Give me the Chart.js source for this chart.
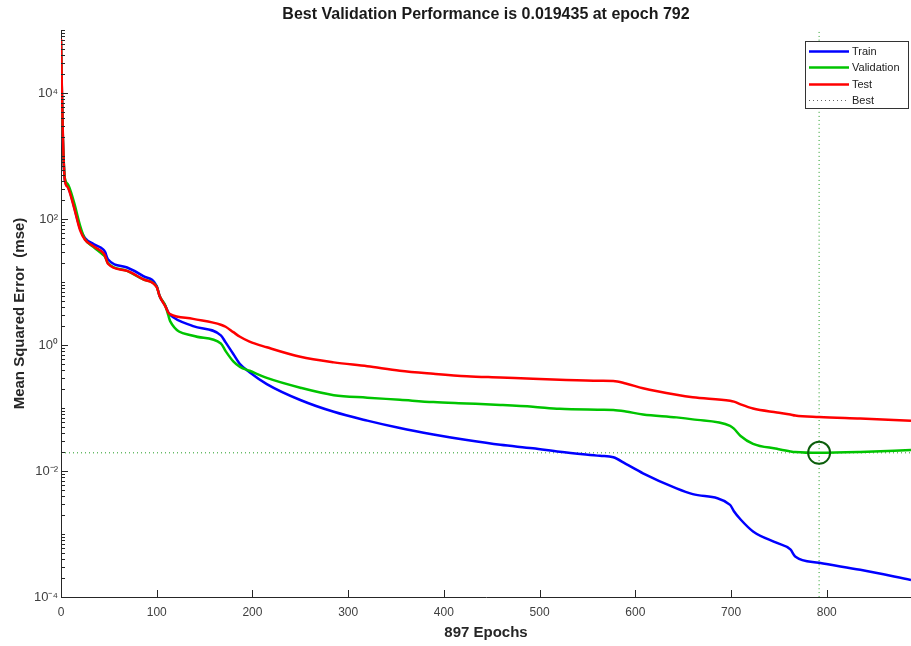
<!DOCTYPE html>
<html>
<head>
<meta charset="utf-8">
<script src="https://cdn.jsdelivr.net/npm/chart.js@4.4.1/dist/chart.umd.min.js"></script>
<style>
  html, body { margin: 0; padding: 0; background: #fff; }
  #wrap { width: 911px; height: 646px; position: relative; }
</style>
</head>
<body>
<div id="wrap"><canvas id="perf"></canvas></div>
<script>
// training record (mse per epoch, log scale)
const epochs = [0, 1, 2, 4, 7, 10, 14, 20, 25, 34, 44, 46, 49, 69, 86, 100, 103, 109, 112, 114,
    138, 167, 172, 180, 187, 197, 215, 250, 285, 320, 354, 389, 424, 459, 493, 521, 563, 577,
    590, 608, 643, 660, 699, 703, 710, 723, 748, 762, 767, 792, 835, 888];
const trainMse = [65000, 9000, 1800, 420, 330, 250, 150, 70, 50, 40, 33, 30, 23, 17, 12.4, 8.6, 6, 4.2, 3.3, 3.0,
    2.0, 1.42, 1.1, 0.72, 0.50, 0.37, 0.24, 0.134, 0.087, 0.063, 0.048, 0.038, 0.031, 0.026, 0.023, 0.0202, 0.0174, 0.0165,
    0.013, 0.0092, 0.0053, 0.0043, 0.0029, 0.0023, 0.0017, 0.0011, 0.00072, 0.00057, 0.00044, 0.00035, 0.00027, 0.000186];
const validationMse = [68000, 9500, 1900, 450, 360, 280, 175, 78, 48, 36, 27, 25, 20, 15, 11, 8.4, 6, 4.2, 3.0, 2.4,
    1.4, 1.06, 0.8, 0.55, 0.45, 0.39, 0.30, 0.21, 0.16, 0.146, 0.135, 0.124, 0.118, 0.112, 0.105, 0.097, 0.094, 0.093,
    0.088, 0.079, 0.071, 0.066, 0.052, 0.047, 0.036, 0.027, 0.0225, 0.0205, 0.0200, 0.0194, 0.0200, 0.0215];
const testMse = [72000, 10000, 2000, 420, 320, 240, 145, 66, 47, 37, 29, 26, 19.5, 15, 11, 8.3, 6, 4.1, 3.3, 3.1,
    2.6, 2.1, 1.95, 1.6, 1.35, 1.13, 0.92, 0.65, 0.53, 0.46, 0.39, 0.35, 0.32, 0.305, 0.29, 0.28, 0.27, 0.268,
    0.245, 0.206, 0.162, 0.148, 0.13, 0.126, 0.114, 0.098, 0.085, 0.079, 0.076, 0.072, 0.068, 0.063];

const bestEpoch = 792;
const bestPerf = 0.019435;
const totalEpochs = 897;
const visibleEpochs = 888;   // the picture is cut at the right edge

const xTickValues = [0, 100, 200, 300, 400, 500, 600, 700, 800];
const yDecades = [-4, -3, -2, -1, 0, 1, 2, 3, 4, 5];
const yTickLabels = { '-4': '10⁻⁴', '-2': '10⁻²', '0': '10⁰', '2': '10²', '4': '10⁴' };

const FONT = "'Liberation Sans', Arial, Helvetica, sans-serif";
const pts = arr => epochs.map((e, i) => ({ x: e, y: arr[i] }));

// log ticks: every 1..9 x 10^k, labelled only on even powers
const yTickValues = [];
yDecades.forEach(k => {
    for (let m = 1; m <= 9; m++) {
        if (k === 5 && m > 1) break;
        yTickValues.push(m * Math.pow(10, k));
    }
});

const inwardTicks = {
    id: 'inwardTicks',
    afterDraw(chart) {
        const { ctx, chartArea: a, scales: { x, y } } = chart;
        ctx.save();
        ctx.strokeStyle = '#262626';
        ctx.lineWidth = 1;
        ctx.beginPath();
        x.ticks.forEach(t => {
            const px = Math.round(x.getPixelForValue(t.value)) + 0.5;
            ctx.moveTo(px, a.bottom);
            ctx.lineTo(px, a.bottom - 7);
        });
        y.ticks.forEach(t => {
            const py = Math.round(y.getPixelForValue(t.value)) + 0.5;
            ctx.moveTo(a.left, py);
            ctx.lineTo(a.left + (t.label ? 7 : 4), py);
        });
        ctx.stroke();
        ctx.restore();
    }
};

const boxLegend = {
    id: 'boxLegend',
    afterDraw(chart) {
        const { ctx, chartArea: a } = chart;
        const items = chart.data.datasets.filter(d => ['Train', 'Validation', 'Test', 'Best'].includes(d.label));
        const w = 104, h = 68;
        const left = a.right - w - 2, top = a.top + 11;
        ctx.save();
        ctx.fillStyle = '#fff';
        ctx.fillRect(left, top, w, h);
        ctx.strokeStyle = '#333';
        ctx.lineWidth = 1;
        ctx.strokeRect(left + 0.5, top + 0.5, w - 1, h - 1);
        ctx.font = '11px ' + FONT;
        ctx.textBaseline = 'middle';
        items.forEach((d, i) => {
            const yy = Math.round(top + 9.5 + i * 16.5) + 0.5;
            ctx.strokeStyle = d.label === 'Best' ? '#666' : d.borderColor;
            ctx.lineWidth = d.label === 'Best' ? 1 : d.borderWidth;
            ctx.setLineDash(d.borderDash || []);
            ctx.beginPath();
            ctx.moveTo(left + 4, yy);
            ctx.lineTo(left + 44, yy);
            ctx.stroke();
            ctx.setLineDash([]);
            ctx.fillStyle = '#222';
            ctx.fillText(d.label, left + 47, yy);
        });
        ctx.restore();
    }
};

new Chart(document.getElementById('perf'), {
    type: 'line',
    data: {
        datasets: [
            { label: 'Train', data: pts(trainMse), borderColor: '#0000ff', borderWidth: 2.5, order: 3 },
            { label: 'Validation', data: pts(validationMse), borderColor: '#00c400', borderWidth: 2.5, order: 2 },
            { label: 'Test', data: pts(testMse), borderColor: '#ff0000', borderWidth: 2.5, order: 1 },
            {
                label: 'Best', data: [{ x: 0, y: bestPerf }, { x: visibleEpochs, y: bestPerf }],
                borderColor: '#1f9a1f', borderWidth: 1, borderDash: [1, 3], order: 4,
            },
            {
                label: 'best epoch', data: [{ x: bestEpoch, y: 1e-4 }, { x: bestEpoch, y: 1e5 }],
                borderColor: '#1f9a1f', borderWidth: 1, borderDash: [1, 3], order: 5,
            },
            {
                label: 'best point', data: [{ x: bestEpoch, y: bestPerf }], showLine: false,
                pointRadius: 11, pointBorderWidth: 2, pointBorderColor: '#0b5e0b',
                pointBackgroundColor: 'rgba(0,0,0,0)', order: 0,
            },
        ],
    },
    options: {
        responsive: true,
        maintainAspectRatio: false,
        animation: false,
        layout: { autoPadding: false },
        elements: {
            point: { radius: 0 },
            line: { tension: 0, cubicInterpolationMode: 'monotone', borderJoinStyle: 'round' },
        },
        scales: {
            x: {
                type: 'linear',
                min: 0,
                max: visibleEpochs,
                afterBuildTicks: scale => { scale.ticks = xTickValues.map(v => ({ value: v })); },
                afterFit: scale => { scale.height = 49; scale.paddingLeft = 0; scale.paddingRight = 0; },
                grid: { drawOnChartArea: false, drawTicks: false },
                border: { color: '#262626', width: 1 },
                ticks: { padding: 8, color: '#404040', font: { family: FONT, size: 12 }, maxRotation: 0 },
                title: {
                    display: true,
                    text: totalEpochs + ' Epochs',
                    color: '#262626',
                    font: { family: FONT, size: 15, weight: 'bold' },
                    padding: { top: 0, bottom: 4 },
                },
            },
            y: {
                type: 'logarithmic',
                min: 1e-4,
                max: 1e5,
                afterBuildTicks: scale => { scale.ticks = yTickValues.map(v => ({ value: v })); },
                afterFit: scale => { scale.width = 61; scale.paddingTop = 0; scale.paddingBottom = 0; },
                grid: { drawOnChartArea: false, drawTicks: false },
                border: { color: '#262626', width: 1 },
                ticks: {
                    autoSkip: false,
                    padding: 3,
                    color: '#404040',
                    font: { family: FONT, size: 13 },
                    callback: v => {
                        const k = Math.round(Math.log10(v));
                        return Math.abs(v - Math.pow(10, k)) < 1e-12 * Math.pow(10, k) + 1e-15 && yTickLabels[k] ? yTickLabels[k] : '';
                    },
                },
                title: {
                    display: true,
                    text: 'Mean Squared Error  (mse)',
                    color: '#262626',
                    font: { family: FONT, size: 15, weight: 'bold' },
                    padding: { top: 11, bottom: 0 },
                },
            },
        },
        plugins: {
            legend: { display: false },
            tooltip: { enabled: false },
            title: {
                display: true,
                fullSize: false,
                text: 'Best Validation Performance is ' + bestPerf + ' at epoch ' + bestEpoch,
                color: '#1a1a1a',
                font: { family: FONT, size: 16, weight: 'bold' },
                padding: { top: 5.4, bottom: 5.4 },
            },
        },
    },
    plugins: [inwardTicks, boxLegend],
});
</script>
</body>
</html>
